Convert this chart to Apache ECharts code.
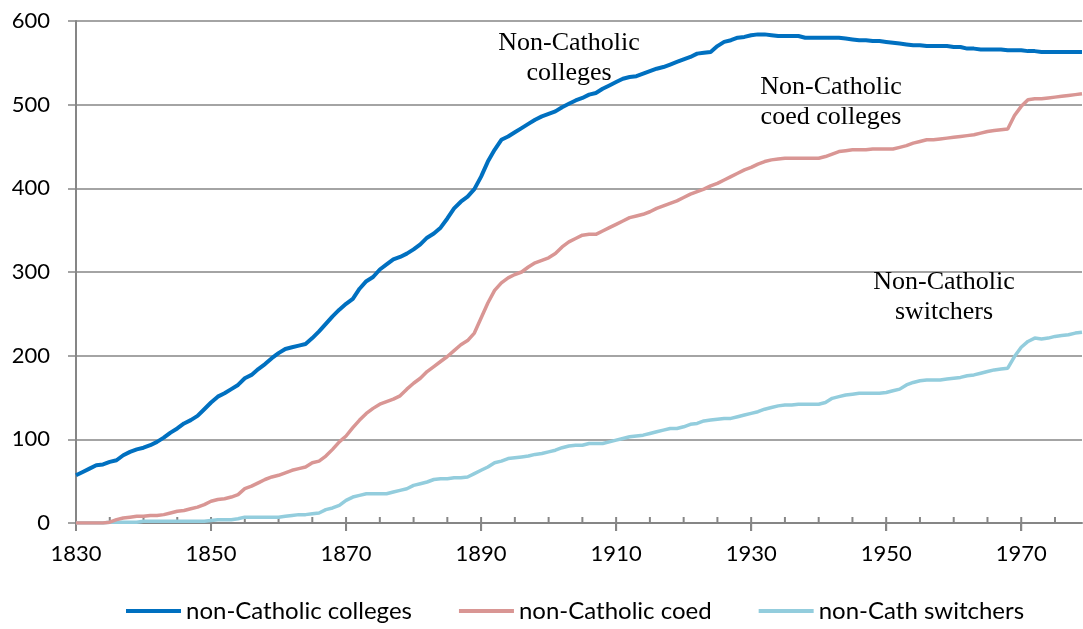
<!DOCTYPE html>
<html>
<head>
<meta charset="utf-8">
<title>Non-Catholic colleges</title>
<script src="https://cdn.jsdelivr.net/npm/echarts@6/dist/echarts.min.js"></script>
<style>
  html, body { margin: 0; padding: 0; background: #fff; }
  #chart { width: 1083px; height: 629px; }
</style>
</head>
<body>
<div id="chart"></div>
<script>
// years 1830 .. 1979, one value per year
const firstYear = 1830
const years = []
for (let y = firstYear; y <= 1979; y++) years.push(String(y))

const labelEvery = 20 // 1830, 1850, ... 1970
const minorEvery = 5

const colleges = [
  57, 61, 65, 69, 70, 73, 75, 81, 85, 88,
  90, 93, 97, 102, 108, 113, 119, 123, 128, 136,
  144, 151, 155, 160, 165, 173, 177, 184, 190, 197,
  203, 208, 210, 212, 214, 221, 229, 238, 247, 255,
  262, 268, 280, 289, 294, 303, 309, 315, 318, 322,
  327, 333, 341, 346, 353, 364, 376, 384, 390, 399,
  414, 432, 446, 458, 462, 467, 472, 477, 482, 486,
  489, 492, 497, 501, 505, 508, 512, 514, 519, 523,
  527, 531, 533, 534, 537, 540, 543, 545, 548, 551,
  554, 557, 561, 562, 563, 570, 575, 577, 580, 581,
  583, 584, 584, 583, 582, 582, 582, 582, 580, 580,
  580, 580, 580, 580, 579, 578, 577, 577, 576, 576,
  575, 574, 573, 572, 571, 571, 570, 570, 570, 570,
  569, 569, 567, 567, 566, 566, 566, 566, 565, 565,
  565, 564, 564, 563, 563, 563, 563, 563, 563, 563
]

const coed = [
  0, 0, 0, 0, 0, 1, 4, 6, 7, 8,
  8, 9, 9, 10, 12, 14, 15, 17, 19, 22,
  26, 28, 29, 31, 34, 41, 44, 48, 52, 55,
  57, 60, 63, 65, 67, 72, 74, 80, 88, 97,
  104, 114, 123, 131, 137, 142, 145, 148, 152, 160,
  167, 173, 181, 187, 193, 199, 206, 213, 218, 227,
  245, 263, 278, 287, 293, 297, 300, 306, 311, 314,
  317, 322, 330, 336, 340, 344, 345, 345, 349, 353,
  357, 361, 365, 367, 369, 372, 376, 379, 382, 385,
  389, 393, 396, 399, 403, 406, 410, 414, 418, 422,
  425, 429, 432, 434, 435, 436, 436, 436, 436, 436,
  436, 438, 441, 444, 445, 446, 446, 446, 447, 447,
  447, 447, 449, 451, 454, 456, 458, 458, 459, 460,
  461, 462, 463, 464, 466, 468, 469, 470, 471, 487,
  498, 506, 507, 507, 508, 509, 510, 511, 512, 513
]

const switchers = [
  0, 0, 0, 0, 0, 1, 1, 1, 1, 1,
  2, 2, 2, 2, 2, 2, 2, 2, 2, 2,
  3, 4, 4, 4, 5, 7, 7, 7, 7, 7,
  7, 8, 9, 10, 10, 11, 12, 16, 18, 21,
  27, 31, 33, 35, 35, 35, 35, 37, 39, 41,
  45, 47, 49, 52, 53, 53, 54, 54, 55, 59,
  63, 67, 72, 74, 77, 78, 79, 80, 82, 83,
  85, 87, 90, 92, 93, 93, 95, 95, 95, 97,
  99, 101, 103, 104, 105, 107, 109, 111, 113, 113,
  115, 118, 119, 122, 123, 124, 125, 125, 127, 129,
  131, 133, 136, 138, 140, 141, 141, 142, 142, 142,
  142, 144, 149, 151, 153, 154, 155, 155, 155, 155,
  156, 158, 160, 165, 168, 170, 171, 171, 171, 172,
  173, 174, 176, 177, 179, 181, 183, 184, 185, 199,
  210, 217, 221, 220, 221, 223, 224, 225, 227, 228
]

const gray = '#868686'
const sans = 'Lato, "Open Sans", sans-serif'
const serif = '"Liberation Serif", "DejaVu Serif", serif'
const noteFont = '26px ' + serif

const notes = [
  { text: 'Non-Catholic\ncolleges', x: 569, y: 28 },
  { text: 'Non-Catholic\ncoed colleges', x: 831, y: 72 },
  { text: 'Non-Catholic\nswitchers', x: 944, y: 267 }
]

const chart = echarts.init(document.getElementById('chart'))

chart.setOption({
  animation: false,
  grid: { left: 76, right: 1, top: 21, bottom: 106 },
  legend: {
    left: 121,
    top: 594,
    icon: 'rect',
    itemWidth: 55,
    itemHeight: 4,
    itemGap: 47,
    textStyle: { fontFamily: sans, fontSize: 24, color: '#000' },
    data: ['non-Catholic colleges', 'non-Catholic coed', 'non-Cath switchers']
  },
  xAxis: {
    type: 'category',
    data: years,
    boundaryGap: false,
    axisLine: { show: true, lineStyle: { color: gray, width: 2 } },
    axisTick: { show: true, interval: i => i % labelEvery === 0, length: 8, lineStyle: { color: gray, width: 2 } },
    axisLabel: {
      interval: i => i % labelEvery === 0,
      margin: 20,
      fontFamily: sans,
      fontSize: 22,
      color: '#000'
    }
  },
  yAxis: {
    type: 'value',
    min: 0,
    max: 600,
    interval: 100,
    axisLine: { show: true, lineStyle: { color: gray, width: 2 } },
    axisTick: { show: true, length: 8, lineStyle: { color: gray, width: 1.5 } },
    axisLabel: { margin: 26, fontFamily: sans, fontSize: 22, color: '#000' },
    splitLine: { lineStyle: { color: gray, width: 1.5 } }
  },
  series: [{
    name: 'non-Catholic colleges',
    type: 'line',
    symbol: 'none',
    data: colleges,
    itemStyle: { color: '#0070c0' },
    lineStyle: { color: '#0070c0', width: 4 },
    z: 4
  }, {
    name: 'non-Catholic coed',
    type: 'line',
    symbol: 'none',
    data: coed,
    itemStyle: { color: '#d99694' },
    lineStyle: { color: '#d99694', width: 3.5 },
    z: 3
  }, {
    name: 'non-Cath switchers',
    type: 'line',
    symbol: 'none',
    data: switchers,
    itemStyle: { color: '#93cddd' },
    lineStyle: { color: '#93cddd', width: 3.5 },
    z: 2
  }]
})

// annotations plus Excel-style ticks: minor every 5 years above the axis,
// major every 20 years crossing it; placed through the axis scales
const elements = notes.map(n => ({
  type: 'text',
  x: n.x,
  y: n.y,
  style: { text: n.text, align: 'center', verticalAlign: 'top', font: noteFont, lineHeight: 30, fill: '#000' }
}))
try {
  const y0 = chart.convertToPixel({ yAxisIndex: 0 }, 0)
  years.forEach((yr, i) => {
    if (i % minorEvery !== 0) return
    const x = chart.convertToPixel({ xAxisIndex: 0 }, i)
    const major = i % labelEvery === 0
    elements.push({
      type: 'line',
      silent: true,
      shape: { x1: x, y1: y0 - 6, x2: x, y2: major ? y0 + 8 : y0 },
      style: { stroke: gray, lineWidth: 2 }
    })
  })
} catch (e) {
  console.error(e)
}
chart.setOption({ graphic: elements })
</script>
</body>
</html>
